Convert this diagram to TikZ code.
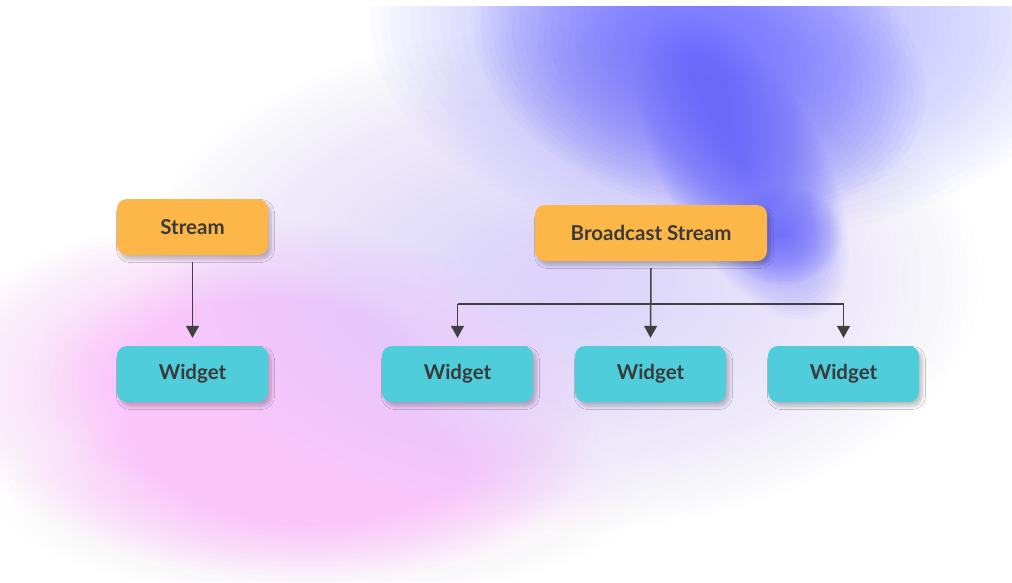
\documentclass[tikz,border=0pt]{standalone}
\usepackage{fontspec}
\setmainfont{Lato}
\usetikzlibrary{arrows.meta,shadows.blur}

\definecolor{streamfill}{HTML}{FDB748}
\definecolor{widgetfill}{HTML}{4FCDDA}
\definecolor{labelink}{HTML}{3A3A3A}
\definecolor{linkink}{HTML}{404040}
\definecolor{violet}{HTML}{6A6AFF}
\definecolor{lavender}{HTML}{A9A8FF}
\definecolor{haze}{HTML}{DDD2FA}
\definecolor{rose}{HTML}{FAC6FA}

% soft wash: 36 nested translucent ellipses
% #1 colour, #2 opacity of one layer, #3 centre, #4 x radius, #5 y radius, #6 angle
\newcommand\softwash[6]{%
  \foreach \k in {1,...,36}{%
    \fill[#1, fill opacity=#2, rotate around={#6:#3}]
      #3 ellipse [x radius={#4*\k/36}, y radius={#5*\k/36}];}}

\tikzset{
  card/.style={rounded corners=10pt, minimum height=56pt, inner sep=0pt,
    font=\bfseries\fontsize{20.5}{22}\selectfont, text=labelink,
    blur shadow={shadow xshift=3pt, shadow yshift=-4pt,
      shadow blur radius=3.5pt, shadow blur steps=8, shadow opacity=24}},
  sourcebox/.style={card, fill=streamfill},
  widgetbox/.style={card, fill=widgetfill, minimum width=151pt},
  wire/.style={draw=linkink, line width=1.5pt},
  feed/.style={wire, -{Triangle[width=13pt,length=12pt]}},
}

\begin{document}
\begin{tikzpicture}[x=1pt, y=-1pt]
  \useasboundingbox (0,0) rectangle (1012,582);
  \fill[white] (0,0) rectangle (1012,582);

  % colour washes behind the diagram
  \begin{scope}
    \clip (0,6) rectangle (1012,582);
    \softwash{haze}{0.041}{(560,280)}{420}{250}{0}
    \softwash{rose}{0.05}{(270,400)}{330}{180}{-5}
    \softwash{rose}{0.034}{(240,380)}{200}{115}{0}
    \softwash{rose}{0.015}{(320,500)}{320}{100}{0}
    \softwash{lavender}{0.041}{(730,20)}{360}{220}{0}
    \softwash{violet}{0.041}{(700,60)}{230}{150}{-15}
    \softwash{violet}{0.041}{(742,165)}{170}{80}{-62}
    \softwash{violet}{0.027}{(782,235)}{60}{50}{0}
  \end{scope}

  % stream and its widget
  \node[sourcebox, minimum width=151pt] (s) at (192.5,227) {Stream};
  \node[widgetbox] (w0) at (192.5,374) {Widget};

  % broadcast stream and its widgets
  \node[sourcebox, minimum width=232pt] (b) at (651,233) {Broadcast Stream};
  \node[widgetbox] (w1) at (457.5,374) {Widget};
  \node[widgetbox] (w2) at (650.5,374) {Widget};
  \node[widgetbox] (w3) at (843.5,374) {Widget};
  \coordinate (bus) at (651,304);

  \draw[feed] ([yshift=-7pt]s.south) -- ([yshift=8pt]w0.north);

  \draw[feed] ([yshift=-7pt]b.south) -- ([yshift=8pt]w2.north);
  \draw[wire] (bus -| w1.north) -- (bus -| w3.north);
  \draw[feed] (bus -| w1.north) -- ([yshift=8pt]w1.north);
  \draw[feed] (bus -| w3.north) -- ([yshift=8pt]w3.north);
\end{tikzpicture}
\end{document}
